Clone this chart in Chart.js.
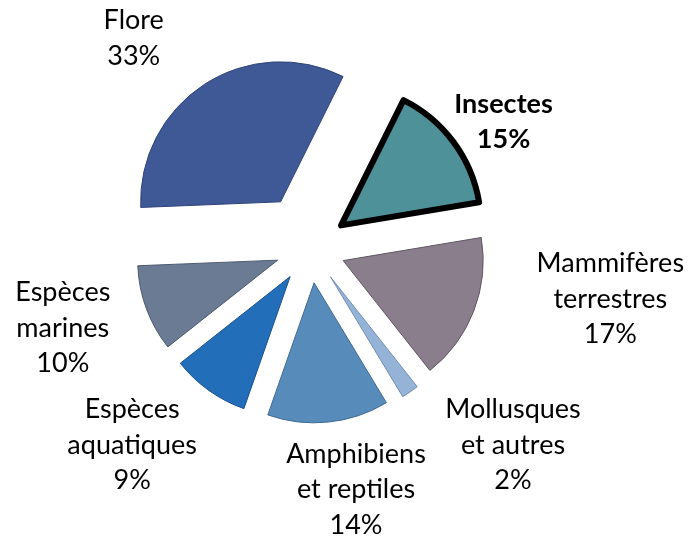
<!DOCTYPE html>
<html>
<head>
<meta charset="utf-8">
<script src="https://cdn.jsdelivr.net/npm/chart.js@4.4.1/dist/chart.umd.min.js"></script>
<style>
  html, body { margin: 0; padding: 0; background: #fff; }
</style>
</head>
<body>
<canvas id="pieChart" width="691" height="538"></canvas>
<script>
// data
const categories = [
  ["Insectes"],
  ["Mammifères", "terrestres"],
  ["Mollusques", "et autres"],
  ["Amphibiens", "et reptiles"],
  ["Espèces", "aquatiques"],
  ["Espèces", "marines"],
  ["Flore"]
];
const shares = [15, 17, 2, 14, 9, 10, 33];

// styles
const fills   = ["#4f9199", "#8a7e8c", "#95b3d7", "#578bba", "#236eb8", "#6b7b93", "#3f5896"];
const borders = ["#000000", "#5f5662", "#6f8fb8", "#3f6a95", "#1a5290", "#4c5a70", "#2e4378"];
const widths  = [6, 1, 1, 1, 1, 1, 1];
const explode = [38, 35, 35, 35, 35, 35, 55];      // px, like Excel point explosion
const labelTurn = [3.2, -11.6, -11.2, -4.8, 6.8, 2.6, -7.1]; // deg from slice middle
const labelDist = [231, 304, 282, 245, 265, 260, 275];        // px from pie centre

const explodePlugin = {
  id: "explode",
  afterDatasetsUpdate(chart) {
    chart.getDatasetMeta(0).data.forEach((arc, i) => {
      const mid = (arc.startAngle + arc.endAngle) / 2;
      arc.x += Math.cos(mid) * explode[i];
      arc.y += Math.sin(mid) * explode[i];
    });
  }
};

const labelPlugin = {
  id: "sliceLabels",
  afterDatasetsDraw(chart) {
    const ctx = chart.ctx;
    const area = chart.chartArea;
    const cx = (area.left + area.right) / 2;
    const cy = (area.top + area.bottom) / 2;
    const total = shares.reduce((a, b) => a + b, 0);
    const lh = 35.5;
    ctx.save();
    ctx.fillStyle = "#000";
    ctx.textAlign = "center";
    ctx.textBaseline = "alphabetic";
    chart.getDatasetMeta(0).data.forEach((arc, i) => {
      const a = (arc.startAngle + arc.endAngle) / 2 + labelTurn[i] * Math.PI / 180;
      const x = cx + Math.cos(a) * labelDist[i];
      const y = cy + Math.sin(a) * labelDist[i];
      const lines = categories[i].concat([Math.round(shares[i] / total * 100) + "%"]);
      ctx.font = (i === 0 ? "bold " : "") + "27px Lato";
      lines.forEach((t, k) => {
        const ly = y + (k - (lines.length - 1) / 2) * lh + 9.5;
        ctx.fillText(t, x, ly);
      });
    });
    ctx.restore();
  }
};

new Chart(pieChart, {
  type: "pie",
  data: {
    labels: categories,
    datasets: [{
      data: shares,
      backgroundColor: fills,
      borderColor: borders,
      borderWidth: widths,
      borderAlign: "center",
      borderJoinStyle: "round"
    }]
  },
  options: {
    responsive: false,
    animation: false,
    events: [],
    rotation: 26.5,
    radius: 140,
    layout: { padding: { left: 0, right: 70, top: 0, bottom: 42 } },
    plugins: { legend: { display: false }, tooltip: { enabled: false } }
  },
  plugins: [explodePlugin, labelPlugin]
});
</script>
</body>
</html>
